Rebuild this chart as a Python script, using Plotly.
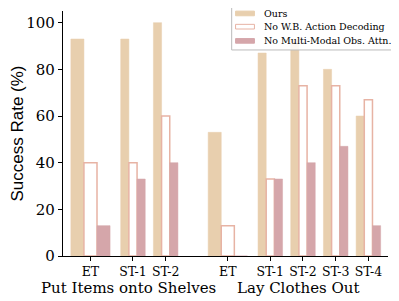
import plotly.graph_objects as go

# ---- data ----
tasks = ["Put Items onto Shelves", "Lay Clothes Out"]
settings = ["ET", "ST-1", "ST-2", "ET", "ST-1", "ST-2", "ST-3", "ST-4"]
task_of = [0, 0, 0, 1, 1, 1, 1, 1]
series_names = ["Ours", "No W.B. Action Decoding", "No Multi-Modal Obs. Attn."]
ours = [93, 93, 100, 53, 87, 93, 80, 60]
no_wb = [40, 40, 60, 13, 33, 73, 73, 67]
no_mm = [13, 33, 40, 0, 33, 40, 47, 13]

# ---- layout (positions / sizes / styles) ----
xpos = [0, 1.3, 2.3, 4.2, 5.5, 6.5, 7.5, 8.5]
bw = [0.4 if s == "ET" else 0.25 for s in settings]

fills = ["#E8CFAE", "#FFFFFF", "#D5A6AA"]
edges = ["#E8CFAE", "#E7B3A4", "#D5A6AA"]
edge_w = [0.5, 1.5, 0.5]

fig = go.Figure()
for k, (name, vals) in enumerate(zip(series_names, [ours, no_wb, no_mm])):
    fig.add_trace(go.Bar(
        x=xpos, y=vals, name=name,
        width=bw, offset=[(k - 1.5) * w for w in bw],
        marker=dict(color=fills[k], line=dict(color=edges[k], width=edge_w[k])),
        showlegend=False,
    ))

serif = "DejaVu Serif"
# page body has an 8px margin, so the figure is shifted by 8px; compensate
fig.update_layout(
    width=391, height=293,
    margin=dict(l=55, r=11, t=3, b=45, autoexpand=False),
    plot_bgcolor="white", paper_bgcolor="white",
    barmode="overlay",
    font=dict(family=serif, color="black"),
    showlegend=False,
)
fig.update_xaxes(
    range=[-0.84, 9.1], automargin=False,
    tickvals=xpos, ticktext=settings,
    tickfont=dict(family=serif, size=12.5),
    showline=True, linecolor="black", linewidth=1.3,
    ticks="outside", ticklen=3.5, tickcolor="black",
    showgrid=False, zeroline=False,
)
fig.update_yaxes(
    range=[0, 105], automargin=False,
    tickvals=[0, 20, 40, 60, 80, 100],
    tickfont=dict(family=serif, size=15),
    showline=True, linecolor="black", linewidth=1.3,
    ticks="outside", ticklen=4, tickcolor="black",
    showgrid=False, zeroline=False,
    title=dict(text="Success Rate (%)", font=dict(family="Liberation Sans", size=17), standoff=11),
)
for t, name in enumerate(tasks):
    xs = [xpos[i] for i in range(len(xpos)) if task_of[i] == t]
    fig.add_annotation(
        x=(min(xs) + max(xs)) / 2, y=-0.13, xref="x", yref="paper",
        text=name, showarrow=False, yanchor="middle",
        font=dict(family=serif, size=15),
    )

# ---- legend box (drawn manually to match compact spacing) ----
fig.add_shape(type="rect", xref="paper", yref="paper",
              x0=0.519, x1=1.018, y0=0.841, y1=1.027,
              line=dict(color="#BBBBBB", width=1), fillcolor="rgba(255,255,255,0.85)",
              layer="above")
row_y = [0.990, 0.936, 0.878]
for k, name in enumerate(series_names):
    fig.add_shape(type="rect", xref="paper", yref="paper",
                  x0=0.531, x1=0.589, y0=row_y[k] - 0.0095, y1=row_y[k] + 0.0095,
                  fillcolor=fills[k], line=dict(color=edges[k], width=1), layer="above")
    fig.add_annotation(x=0.613, y=row_y[k], xref="paper", yref="paper",
                       text=name, showarrow=False, xanchor="left", yanchor="middle",
                       font=dict(family=serif, size=9.5))

fig.write_html("out.html")
